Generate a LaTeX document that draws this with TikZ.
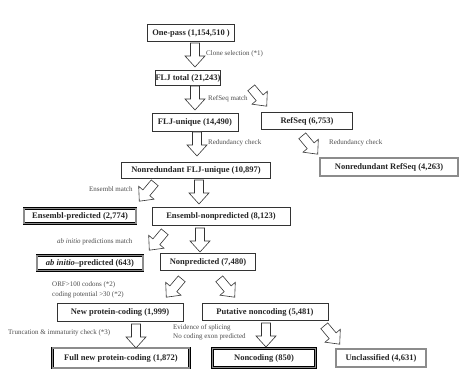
\documentclass[tikz,border=0pt]{standalone}
\usepackage{fontspec}
\setmainfont{Liberation Serif}
\begin{document}
\begin{tikzpicture}[x=1pt,y=-1pt,
 box/.style={draw=black!80, line width=0.6pt, fill=white, inner sep=0pt, font=\fontsize{8.5}{10}\selectfont\bfseries, text=black!85},
 dbox/.style={box, draw=black, line width=0.5pt, double=black!45, double distance=1.3pt},
 lbl/.style={font=\fontsize{7}{8}\selectfont, text=black!70, inner sep=0pt, anchor=west},
 arrowline/.style={draw=black!80, line width=0.6pt, fill=white},
 barrow/.pic={\path[arrowline] (-12,-4.5)--(1,-4.5)--(1,-10)--(12,0)--(1,10)--(1,4.5)--(-12,4.5)--cycle;}
]
\useasboundingbox (0,0) rectangle (474,385);

% boxes
\node[box, minimum width=87, minimum height=17] (onepass) at (191,33) {One-pass (1,154,510 )};
\node[box, minimum width=65, minimum height=15] (fljtotal) at (188,78) {FLJ total (21,243)};
\node[box, minimum width=86, minimum height=18] (fljunique) at (195,122) {FLJ-unique (14,490)};
\node[box, minimum width=91, minimum height=17] (refseq) at (307,121) {RefSeq (6,753)};
\node[box, minimum width=149, minimum height=16] (nrflj) at (196,170) {Nonredundant FLJ-unique (10,897)};
\node[dbox, minimum width=138, minimum height=18] (nrref) at (389,167) {Nonredundant RefSeq (4,263)};
\node[dbox, minimum width=112, minimum height=15] (enspred) at (80,216) {Ensembl-predicted (2,774)};
\node[box, minimum width=138, minimum height=18] (ensnon) at (221,216) {Ensembl-nonpredicted (8,123)};
\node[dbox, minimum width=106, minimum height=15] (abinit) at (90,263) {\textit{ab initio}--predicted (643)};
\node[box, minimum width=95, minimum height=17] (nonpred) at (208,262) {Nonpredicted (7,480)};
\node[box, minimum width=126, minimum height=18] (newpc) at (120,312) {New protein-coding (1,999)};
\node[box, minimum width=126, minimum height=17] (putnc) at (265,312) {Putative noncoding (5,481)};
\node[dbox, minimum width=137, minimum height=20] (fullpc) at (121,358) {Full new protein-coding (1,872)};
\node[dbox, minimum width=103, minimum height=19] (noncod) at (264,358) {Noncoding (850)};
\node[dbox, minimum width=90, minimum height=18] (unclass) at (381,358) {Unclassified (4,631)};

% block arrows
\pic[rotate=-90] at (195,55) {barrow};
\pic[rotate=-90] at (195,98) {barrow};
\pic[rotate=-50] at (259,97) {barrow};
\pic[rotate=-90] at (197,144) {barrow};
\pic[rotate=-50] at (310,145) {barrow};
\pic[rotate=-130] at (147,192) {barrow};
\pic[rotate=-90] at (199,192) {barrow};
\pic[rotate=-130] at (157,241) {barrow};
\pic[rotate=-90] at (200,240) {barrow};
\pic[rotate=-130] at (174,288) {barrow};
\pic[rotate=-50] at (227,288) {barrow};
\pic[rotate=-90] at (136,336) {barrow};
\pic[rotate=-90] at (266,335) {barrow};
\pic[rotate=-50] at (332,335) {barrow};

% labels
\node[lbl] (l1) at (206,54) {Clone selection (*1)};
\node[lbl] (l2) at (208,99) {RefSeq match};
\node[lbl] (l3) at (208,143) {Redundancy check};
\node[lbl] (l4) at (329,143) {Redundancy check};
\node[lbl] (l5) at (89,189) {Ensembl match};
\node[lbl] (l6) at (57,242) {\textit{ab initio} predictions match};
\node[lbl] (l7) at (52,285) {ORF>100 codons (*2)};
\node[lbl] (l8) at (52,295) {coding potential >30 (*2)};
\node[lbl] (l9) at (8,333) {Truncation \& immaturity check (*3)};
\node[lbl] (l10) at (173,328) {Evidence of splicing};
\node[lbl] (l11) at (173,337) {No coding exon predicted};
\end{tikzpicture}
\end{document}
